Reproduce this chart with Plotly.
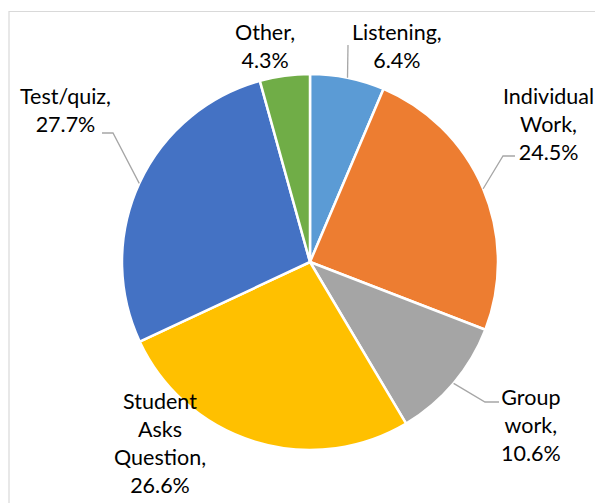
import math
import plotly.graph_objects as go

# ---- data ----
categories = ["Listening", "Individual<br>Work", "Group<br>work", "Student<br>Asks<br>Question", "Test/quiz", "Other"]
values = [6.4, 24.5, 10.6, 26.6, 27.7, 4.3]
pct_labels = ["6.4%", "24.5%", "10.6%", "26.6%", "27.7%", "4.3%"]
colors = ["#5B9BD5", "#ED7D31", "#A5A5A5", "#FFC000", "#4472C4", "#70AD47"]

W, H = 603, 503
OFF = 8  # page body margin
CX, CY, R = 310, 262, 188

def px(x):
    return (x - OFF) / W

def py(y):
    return 1 - (y - OFF) / H

fig = go.Figure(go.Pie(
    labels=[c.replace("<br>", " ") for c in categories],
    values=values,
    sort=False,
    direction="clockwise",
    rotation=0,
    textinfo="none",
    hoverinfo="label+percent",
    marker=dict(colors=colors, line=dict(color="white", width=2.5)),
    domain=dict(x=[px(CX - R), px(CX + R)], y=[py(CY + R), py(CY - R)]),
    showlegend=False,
))

# label placement (pixel positions of label centres) and leader-line elbows
label_pos = {
    0: (397, 46),
    1: (548, 124),
    2: (531, 425),
    3: (160, 443),
    4: (65, 110),
    5: (265, 46),
}
leaders = {
    0: [(348, 45)],
    1: [(503, 156), (515, 156)],
    2: [(485, 402), (499, 402)],
    4: [(113, 133), (102, 133)],
}

total = sum(values)
cum = 0
annotations = []
shapes = []
for i, v in enumerate(values):
    mid = (cum + v / 2) / total * 2 * math.pi
    cum += v
    ex = CX + R * math.sin(mid)
    ey = CY - R * math.cos(mid)
    lx, ly = label_pos[i]
    annotations.append(dict(
        x=px(lx), y=py(ly), xref="paper", yref="paper",
        text=f"{categories[i]},<br>{pct_labels[i]}",
        showarrow=False, xanchor="center", yanchor="middle", align="center",
        font=dict(family="Lato, Open Sans, sans-serif", size=21.5, color="#000000"),
    ))
    if i in leaders:
        pts = [(ex, ey)] + leaders[i]
        path = "M " + " L ".join(f"{px(x)},{py(y)}" for x, y in pts)
        shapes.append(dict(type="path", path=path, xref="paper", yref="paper",
                           line=dict(color="#A6A6A6", width=1.3)))

# chart border (cropped at right/bottom)
shapes.append(dict(type="rect", xref="paper", yref="paper",
                   x0=px(9), y0=py(530), x1=px(630), y1=py(11.5),
                   line=dict(color="#D9D9D9", width=1.2)))

fig.update_layout(
    width=W, height=H,
    margin=dict(l=0, r=0, t=0, b=0),
    paper_bgcolor="white", plot_bgcolor="white",
    annotations=annotations, shapes=shapes,
)

fig.write_html("out.html")
